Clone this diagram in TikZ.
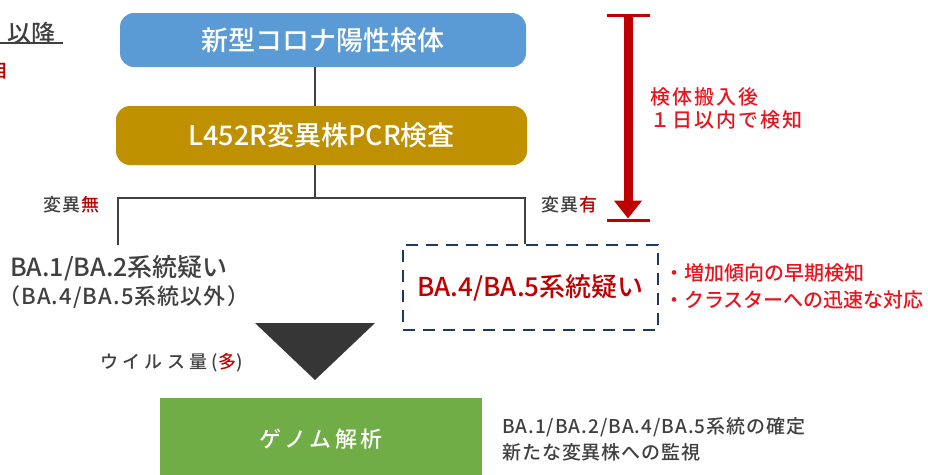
\documentclass[tikz,border=0pt]{standalone}
\usepackage{fontspec}
\IfFontExistsTF{Noto Sans CJK JP Medium}
  {\setmainfont{Noto Sans CJK JP}[BoldFont={Noto Sans CJK JP Medium}]}
  {\setmainfont{Noto Sans CJK JP}}
\usetikzlibrary{arrows.meta}
\definecolor{cblue}{HTML}{5B9BD5}
\definecolor{cgold}{HTML}{BF9000}
\definecolor{cgreen}{HTML}{70AD47}
\definecolor{cline}{HTML}{404040}
\definecolor{cgray}{HTML}{404040}
\definecolor{cred}{HTML}{C00000}
\definecolor{cbright}{HTML}{E8141E}
\definecolor{cdred}{HTML}{C00000}
\definecolor{cnavy}{HTML}{203864}
\definecolor{ctri}{HTML}{363636}
\newcommand\fsz[1]{\fontsize{#1}{#1}\selectfont\bfseries}
\newcommand\lsp[1]{\addfontfeature{LetterSpace=#1}}
\tikzset{
  flow/.style={rounded corners=14pt, text=white, inner sep=0pt},
  conn/.style={draw=cline, line width=2.5pt, line join=miter},
  lbl/.style={inner sep=0pt, anchor=west, text=cgray},
  rlbl/.style={inner sep=0pt, anchor=west, text=cbright},
}
\begin{document}
\begin{tikzpicture}[x=1pt,y=-1pt]
\useasboundingbox (0,0) rectangle (928,474);
\clip (0,0) rectangle (928,474);
% top-left cut text
\node[lbl] (ik) at (7,33) {\fsz{24}以降};
\coordinate (ul1) at (0,43);
\coordinate (ul2) at (63,43);
\draw[cgray, line width=2pt] (ul1) -- (ul2);
\node[inner sep=0pt, anchor=east, text=cred] (ji) at (9,70) {\fsz{20}自};
% boxes
\node[flow, fill=cblue, minimum width=406pt, minimum height=54pt] (n1) at (323,40) {\fsz{27}新型コロナ陽性検体\hspace{18pt}};
\node[flow, fill=cgold, minimum width=411pt, minimum height=59pt] (n2) at (321.5,135.5) {\fsz{27}L452R変異株PCR検査\hspace{6pt}};
\node[draw=cnavy, line width=2.5pt, dash pattern=on 12pt off 8pt, minimum width=255pt, minimum height=85pt, inner sep=0pt, text=cred] (n4) at (530.5,287.5) {\fsz{26}BA.4/BA.5系統疑い};
\node[fill=cgreen, minimum width=322pt, minimum height=82pt, anchor=north west, inner sep=0pt, text=white] (n5) at (160,398) {\fsz{22}\lsp{15}ゲノム解析};
% connectors
\coordinate (v) at (315,198);
\coordinate (bl) at (118,198);
\coordinate (br) at (525,198);
\coordinate (blend) at (118,245);
\draw[conn] (n1.south -| v) -- (n2.north -| v);
\draw[conn] (n2.south -| v) -- (v);
\draw[conn] (blend) -- (bl) -- (br) -- (br |- n4.north);
% branch labels
\node[lbl] (lnone) at (43,205) {\fsz{18}\lsp{10}変異\textcolor{cred}{無}};
\node[lbl] (lyes) at (541,205) {\fsz{18}\lsp{10}変異\textcolor{cred}{有}};
% left texts
\node[lbl] (ba12) at (10,268) {\fsz{25}BA.1/BA.2系統疑い};
\node[lbl] (ba45x) at (-2,297) {\fsz{22}\lsp{5}（BA.4/BA.5系統以外）};
% bullets
\node[rlbl] (b1) at (664,273) {\fsz{20}・増加傾向の早期検知};
\node[rlbl] (b2) at (664,300) {\fsz{20}・クラスターへの迅速な対応};
% red arrow
\coordinate (at) at (628,15);
\coordinate (ab) at (628,220);
\draw[cdred, line width=3pt] ([xshift=-21pt]at) -- ([xshift=22pt]at);
\draw[cdred, line width=3pt] ([xshift=-21pt]ab) -- ([xshift=22pt]ab);
\draw[cdred, line width=9pt, -{Triangle[width=27pt,length=18pt]}] (at) -- ([yshift=1.5pt]ab);
\node[rlbl] (al1) at (650,97) {\fsz{20}\lsp{10}検体搬入後};
\node[rlbl] (al2) at (650,120) {\fsz{20}\lsp{10}１日以内で検知};
% triangle
\fill[ctri] (255,323) -- (375,323) -- (315,380) -- cycle;
\node[lbl] (vl) at (100,363) {\fsz{18}\lsp{24}ウイルス量(\textcolor{cred}{多})};
% bottom right text
\node[lbl] (r1) at (502,427) {\fsz{19}\lsp{5}BA.1/BA.2/BA.4/BA.5系統の確定};
\node[lbl] (r2) at (502,452) {\fsz{19}\lsp{5}新たな変異株への監視};
\end{tikzpicture}
\end{document}
